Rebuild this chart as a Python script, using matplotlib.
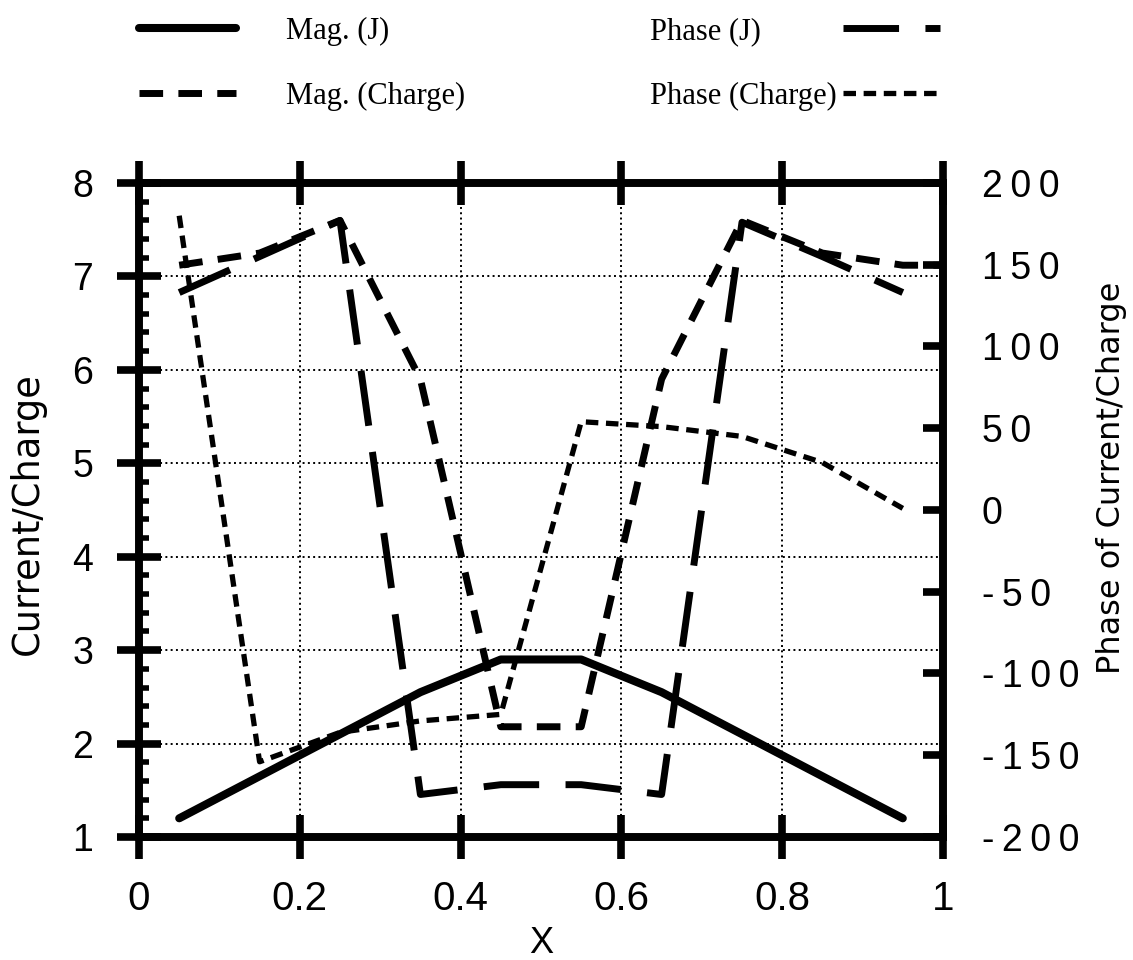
import matplotlib
matplotlib.use("Agg")
import matplotlib.pyplot as plt
from matplotlib.ticker import FixedLocator, FixedFormatter, MultipleLocator

plt.rcParams['lines.scale_dashes'] = False
plt.rcParams['font.family'] = ['Liberation Sans', 'DejaVu Sans']

# ---------------- data ----------------
x_pts = [0.05, 0.15, 0.25, 0.35, 0.45, 0.55, 0.65, 0.75, 0.85, 0.95]
mag_j = [1.2, 1.65, 2.1, 2.55, 2.9, 2.9, 2.55, 2.1, 1.65, 1.2]
x_mag_charge = [0.05, 0.15, 0.25, 0.35, 0.45, 0.55, 0.65, 0.75, 0.85, 0.95, 1.0]
mag_charge = [7.12, 7.25, 7.6, 5.9, 2.18, 2.18, 5.9, 7.6, 7.25, 7.12, 7.12]
phase_j = [133, 155, 177, -174, -168, -168, -174, 176, 155, 133]
phase_charge = [180, -154, -136, -129, -125, 54, 51, 45, 29, 1]

series_labels = ['Mag. (J)', 'Mag. (Charge)', 'Phase (J)', 'Phase (Charge)']

x_ticks = [0, 0.2, 0.4, 0.6, 0.8, 1.0]
x_tick_labels = ['0', '0.2', '0.4', '0.6', '0.8', '1']
left_ticks = [1, 2, 3, 4, 5, 6, 7, 8]
left_tick_labels = ['1', '2', '3', '4', '5', '6', '7', '8']
right_ticks = [-200, -150, -100, -50, 0, 50, 100, 150, 200]
right_tick_labels = ['-200', '-150', '-100', '-50', '0', '50', '100', '150', '200']

# ---------------- layout ----------------
W, H, DPI = 1133, 960, 100
fig = plt.figure(figsize=(W / DPI, H / DPI), dpi=DPI, facecolor='white')
ax = fig.add_axes([139 / W, 1 - 837 / H, 804 / W, 654 / H])
ax2 = ax.twinx()

# ---------------- lines ----------------
l_magj, = ax.plot(x_pts, mag_j, color='black', lw=5.8,
                  solid_capstyle='round', solid_joinstyle='round', zorder=3)
l_magc, = ax.plot(x_mag_charge, mag_charge, color='black', lw=5.0,
                  dashes=(17, 11), dash_capstyle='butt', dash_joinstyle='round', zorder=3)
l_phj, = ax2.plot(x_pts, phase_j, color='black', lw=5.0,
                  dashes=(40, 19), dash_capstyle='butt', dash_joinstyle='round', zorder=3)
l_phc, = ax2.plot(x_pts, phase_charge, color='black', lw=3.8,
                  dashes=(9, 5.5), dash_capstyle='butt', dash_joinstyle='round', zorder=3)

# ---------------- axes ----------------
ax.set_xlim(0, 1)
ax.set_ylim(1, 8)
ax2.set_ylim(-200, 200)

ax.xaxis.set_major_locator(FixedLocator(x_ticks))
ax.xaxis.set_major_formatter(FixedFormatter(x_tick_labels))
ax.yaxis.set_major_locator(FixedLocator(left_ticks))
ax.yaxis.set_major_formatter(FixedFormatter(left_tick_labels))
ax.yaxis.set_minor_locator(MultipleLocator(0.2))
ax2.yaxis.set_major_locator(FixedLocator(right_ticks))
ax2.yaxis.set_major_formatter(FixedFormatter(['\u2009'.join(s) for s in right_tick_labels]))

ax.tick_params(axis='x', which='major', direction='inout', length=32, width=5.5,
               top=True, bottom=True, labelsize=29, pad=15, color='black')
ax.tick_params(axis='y', which='major', direction='inout', length=32, width=5.5,
               left=True, right=False, labelleft=True, labelright=False,
               labelsize=27, pad=17)
ax.tick_params(axis='y', which='minor', direction='in', length=7, width=4,
               left=True, right=False)
ax.tick_params(axis='x', which='minor', top=False, bottom=False)
ax2.tick_params(axis='y', which='major', direction='in', length=14.4, width=5.5,
                left=False, right=True, labelleft=False, labelright=True,
                labelsize=27, pad=28)
ax2.tick_params(axis='y', which='minor', left=False, right=False)

for a in (ax, ax2):
    for sp in a.spines.values():
        sp.set_linewidth(5.5)
        sp.set_capstyle('projecting')

ax.set_axisbelow(True)
ax.grid(True, which='major', axis='both', color='black',
        linestyle=(0, (1.4, 2.4)), linewidth=1.4)

ax.set_xlabel('X', fontsize=26, labelpad=6)
ax.set_ylabel('Current/Charge', fontsize=26.5, family='DejaVu Sans')
ax.yaxis.set_label_coords(-0.1157, 0.494)
ax2.set_ylabel('Phase of Current/Charge', fontsize=23, family='DejaVu Sans', rotation=90)
ax2.yaxis.set_label_coords(1.1905, 0.549)

# ---------------- legends ----------------
leg_prop = {'family': 'Liberation Serif', 'size': 22}
fs_px = 22 * DPI / 72.0
hl = 97 / fs_px
common = dict(frameon=False, borderpad=0, borderaxespad=0, handlelength=hl,
              prop=leg_prop, handleheight=0.7)
top_px = 17

leg1 = fig.legend([l_magj, l_magc], series_labels[:2], loc='upper left',
                  bbox_to_anchor=(139 / W, 1 - top_px / H), handletextpad=50 / fs_px,
                  labelspacing=1.17, **common)
fig.canvas.draw()
r = fig.canvas.get_renderer()
t1, t2 = leg1.get_texts()
row_shift = t1.get_window_extent(r).y1 - t2.get_window_extent(r).y1  # px


def right_legend(line, label, top):
    pad0 = 0.2
    lg = fig.legend([line], [label], loc='upper right',
                    bbox_to_anchor=(940 / W, 1 - top / H), markerfirst=False,
                    handletextpad=pad0, **common)
    fig.canvas.draw()
    x0 = lg.get_texts()[0].get_window_extent(fig.canvas.get_renderer()).x0
    lg.remove()
    new_pad = pad0 + (x0 - 650) / fs_px
    lg = fig.legend([line], [label], loc='upper right',
                    bbox_to_anchor=(940 / W, 1 - top / H), markerfirst=False,
                    handletextpad=new_pad, **common)
    return lg


right_legend(l_phj, series_labels[2], top_px)
right_legend(l_phc, series_labels[3], top_px + row_shift)

fig.savefig('out.png', dpi=DPI, facecolor='white')
